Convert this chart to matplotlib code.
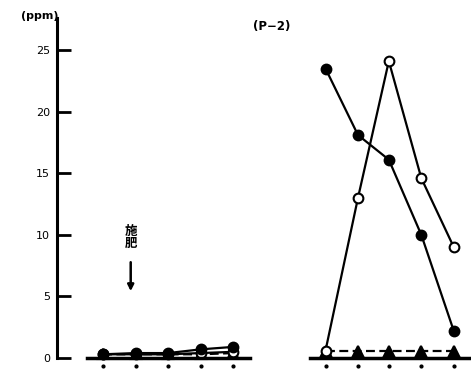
import matplotlib
matplotlib.use("Agg")
import matplotlib.pyplot as plt

plt.rcParams['font.family'] = ['DejaVu Sans', 'Noto Sans CJK JP']

# data
x_left = [0, 1, 2, 3, 4]
x_right = [6.85, 7.85, 8.8, 9.8, 10.8]
left_filled = [0.3, 0.4, 0.4, 0.7, 0.9]
left_open = [0.3, 0.3, 0.3, 0.4, 0.5]
left_tri = [0.3, 0.3, 0.3, 0.3, 0.4]
right_filled = [23.5, 18.1, 16.1, 10.0, 2.2]
right_open = [0.6, 13.0, 24.1, 14.6, 9.0]
right_tri = [0.6, 0.6, 0.6, 0.6, 0.6]
yticks = [0, 5, 10, 15, 20, 25]

fig = plt.figure(figsize=(4.71, 3.69), dpi=100)
ax = fig.add_axes([57/471, 11/369, 413/471, 340/369])
ax.set_xlim(-1.42, 11.3)
ax.set_ylim(0, 27.6)
for s in ['top', 'right', 'bottom']:
    ax.spines[s].set_visible(False)
ax.spines['left'].set_linewidth(2.2)
ax.set_xticks([])
ax.set_yticks(yticks)
ax.tick_params(axis='y', direction='in', length=10, width=2, labelsize=8, pad=5)

def series(xs, ys, filled, marker, ls):
    ax.plot(xs, ys, color='black', lw=1.6, ls=ls, marker=marker, ms=7,
            mfc='black' if filled else 'white', mec='black', mew=1.5,
            clip_on=False, zorder=3)

series(x_left, left_tri, True, '^', (0, (4, 2)))
series(x_left, left_open, False, 'o', '-')
series(x_left, left_filled, True, 'o', '-')
series(x_right, right_tri, True, '^', (0, (4, 2)))
series(x_right, right_open, False, 'o', '-')
series(x_right, right_filled, True, 'o', '-')

# baselines
ax.plot([-0.49, 4.52], [0, 0], color='black', lw=2.5, clip_on=False, zorder=4)
ax.plot([6.37, 11.3], [0, 0], color='black', lw=2.5, clip_on=False, zorder=4)
ax.plot(x_left + x_right, [-0.65] * 10, 'o', color='black', ms=2,
        clip_on=False, zorder=4)

ax.text(-1.38, 27.75, '(ppm)', fontsize=8, ha='right', va='center',
        fontweight='bold')
ax.text(5.2, 26.9, '(P−2)', fontsize=8.5, ha='center', va='center',
        fontweight='bold')
ax.text(0.85, 9.8, '施\n肥', fontsize=9, ha='center', va='center',
        family=['Noto Sans CJK JP'], linespacing=0.9, fontweight='bold')
ax.annotate('', xy=(0.85, 5.2), xytext=(0.85, 8.0),
            arrowprops=dict(arrowstyle='-|>', color='black', lw=1.8,
                            mutation_scale=9))

fig.savefig('out.png', dpi=100)
